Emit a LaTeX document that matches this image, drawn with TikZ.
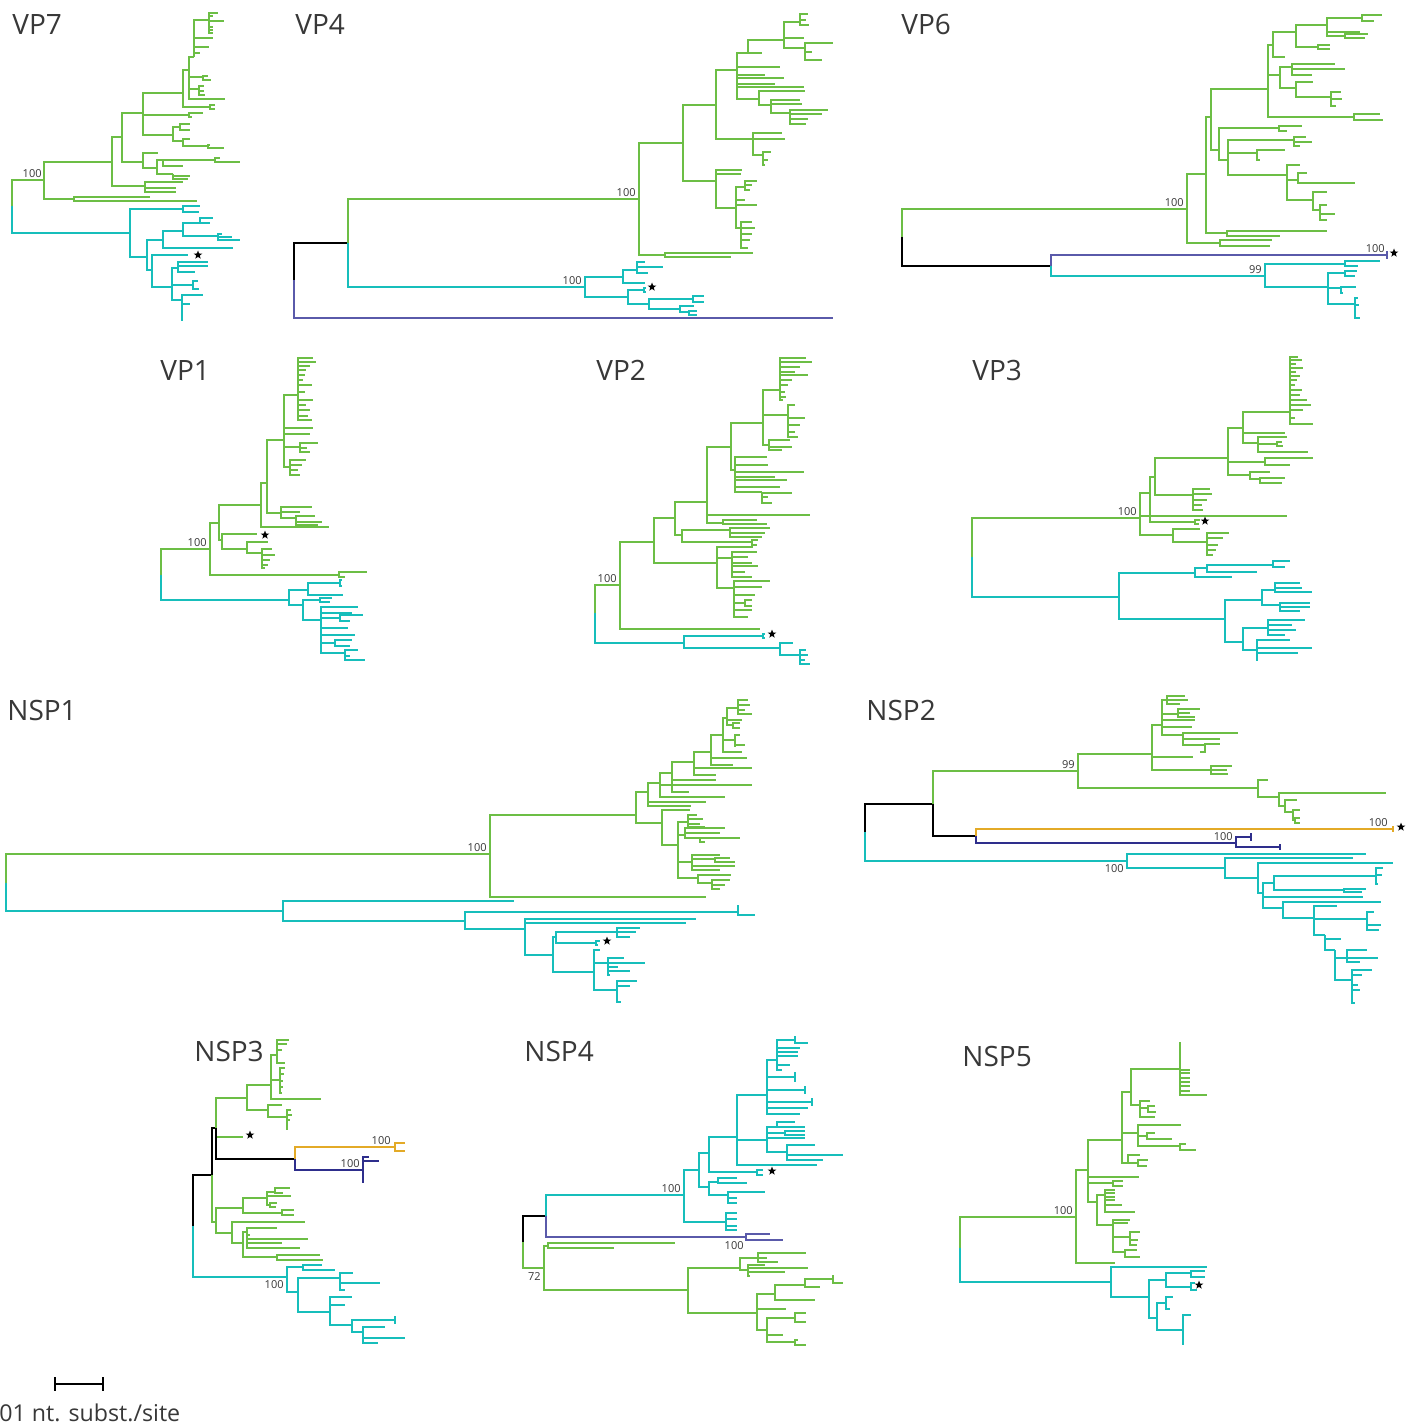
\documentclass[tikz,border=0pt]{standalone}
\usepackage{fontspec}
\setmainfont{Open Sans}
\usepackage{xcolor}
\usetikzlibrary{shapes.geometric}

\definecolor{tgreen}{HTML}{6CBE45}
\definecolor{tcyan}{HTML}{17BEBB}
\definecolor{tpurple}{HTML}{5A5AAA}
\definecolor{tnavy}{HTML}{2E2E8C}
\definecolor{tgold}{HTML}{E3AA27}
\definecolor{txtgray}{HTML}{383838}

% one internal node: x, y, then child y/x pairs (elbow branches)
\newcommand\clade[4][grn]{%
  \foreach \cy/\cx in {#4}{\draw[branch,#1] (#2,#3) |- (\cx,\cy);}}

\begin{document}
\begin{tikzpicture}[
  x=0.5pt, y=-0.5pt,
  branch/.style={line width=1.35pt},
  grn/.style={draw=tgreen}, cyn/.style={draw=tcyan}, pur/.style={draw=tpurple},
  nvy/.style={draw=tnavy}, org/.style={draw=tgold}, blk/.style={draw=black},
  title/.style={font=\fontsize{14}{14}\selectfont, text=txtgray, anchor=base west, inner sep=0},
  boot/.style={font=\fontsize{5.5}{5.5}\selectfont, text=txtgray, inner sep=0.5pt},
  starmark/.style={star, star points=5, star point ratio=2.4, fill=black, minimum size=4.5pt, inner sep=0}
]
\useasboundingbox (0,0) rectangle (1417,1427);

%% VP7
\node[title] (t-vp7) at (12,35) {VP7};
\clade[grn]{12}{206}{180/44}
\clade[cyn]{12}{206}{233/130}
\node[boot, anchor=south east] (b-vp7) at (43,179) {100};
\clade{44}{180}{162/112, 199/74}
\clade{74}{199}{197/150, 201/197}
\clade{112}{162}{137/122, 186/145}
\clade{145}{186}{182/183, 188/176, 192/176}
\clade{122}{137}{113/143, 162/143}
\clade{143}{162}{153/158, 168/157}
\clade{157}{168}{160/163, 174/173}
\clade{163}{160}{160/215, 166/183}
\clade{215}{160}{158/220, 162/240}
\clade{173}{174}{176/190, 179/188}
\clade{143}{113}{93/183, 115/189, 135/173}
\clade{189}{115}{113/203, 117/192}
\clade{173}{135}{127/180, 141/183}
\clade{180}{127}{124/190, 130/190}
\clade{183}{141}{139/190, 146/208}
\clade{208}{146}{145/210, 148/224}
\clade{183}{93}{70/189, 107/210}
\clade{210}{107}{105/215, 109/215}
\clade{189}{70}{57/194, 77/203, 89/199, 99/225}
\clade{203}{77}{76/208, 80/211}
\clade{199}{89}{86/204, 91/204, 95/205}
\clade{194}{57}{20/209, 38/213, 47/209, 53/200}
\clade{209}{20}{13/218, 16/213, 21/224, 27/213, 30/213, 33/213}
\clade[cyn]{130}{233}{209/183, 257/147}
\clade[cyn]{183}{209}{206/200, 212/199}
\clade[cyn]{147}{257}{240/163, 270/152}
\clade[cyn]{163}{240}{231/183, 248/233}
\clade[cyn]{183}{231}{223/200, 236/218}
\clade[cyn]{200}{223}{218/213, 223/210}
\clade[cyn]{218}{236}{234/222, 237/232, 240/240}
\clade[cyn]{152}{270}{255/188, 287/172}
\clade[cyn]{172}{287}{268/178, 285/193, 300/182}
\clade[cyn]{178}{268}{262/208, 266/208, 272/195}
\clade[cyn]{193}{285}{281/198, 289/199}
\clade[cyn]{182}{300}{295/203, 304/190, 320/183}
\node[starmark] (s-vp7) at (198,255) {};

%% VP4
\node[title] (t-vp4) at (295,35) {VP4};
\clade[blk]{294}{280}{243/348}
\clade[pur]{294}{280}{318/833}
\clade[grn]{348}{243}{199/639}
\clade[cyn]{348}{243}{287/585}
\node[boot, anchor=south east] (b-vp4a) at (637,198) {100};
\node[boot, anchor=south east] (b-vp4b) at (583,286) {100};
\clade{639}{199}{143/683, 255/665}
\clade{665}{255}{253/753, 257/731}
\clade{683}{143}{105/716, 181/716}
\clade{716}{105}{70/737, 139/753}
\clade{737}{70}{53/748, 67/780, 75/765, 78/784, 84/775, 87/804, 99/759}
\clade{748}{53}{40/784, 53/762}
\clade{784}{40}{22/800, 38/804, 48/805}
\clade{800}{22}{14/808, 20/806, 25/809}
\clade{805}{48}{43/833, 52/812, 60/822}
\clade{759}{99}{91/805, 105/771}
\clade{771}{105}{100/800, 104/802, 113/790}
\clade{790}{113}{110/828, 114/822, 119/808, 124/806}
\clade{753}{139}{133/782, 139/785, 155/763}
\clade{763}{155}{152/771, 160/768, 165/765}
\clade{716}{181}{170/742, 174/741, 208/736}
\clade{736}{208}{187/745, 200/745, 205/757, 228/741}
\clade{745}{187}{181/757, 185/752, 190/750}
\clade{741}{228}{222/752, 228/755, 234/752, 240/750, 248/748}
\clade[cyn]{585}{287}{277/623, 297/628}
\clade[cyn]{623}{277}{270/637, 283/645}
\clade[cyn]{637}{270}{262/645, 267/663, 273/648}
\clade[cyn]{628}{297}{290/644, 304/649}
\clade[cyn]{644}{290}{288/646, 292/646}
\clade[cyn]{649}{304}{299/693, 309/680}
\clade[cyn]{693}{299}{296/704, 302/704}
\clade[cyn]{680}{309}{306/694, 312/689}
\clade[cyn]{689}{312}{311/697, 315/697}
\node[starmark] (s-vp4) at (652,287) {};

%% VP6
\node[title] (t-vp6) at (901,35) {VP6};
\clade[grn]{902}{237}{209/1187}
\clade[blk]{902}{237}{266/1051}
\clade[pur]{1051}{266}{255/1387}
\clade[pur]{1387}{255}{252/1388, 258/1388}
\clade[cyn]{1051}{266}{276/1265}
\node[boot, anchor=south east] (b-vp6a) at (1185,208) {100};
\node[boot, anchor=south east] (b-vp6b) at (1386,254) {100};
\node[boot, anchor=south east] (b-vp6c) at (1263,275) {99};
\node[starmark] (s-vp6) at (1394,253) {};
\clade[cyn]{1265}{276}{264/1345, 287/1328}
\clade[cyn]{1345}{264}{261/1380, 266/1358}
\clade[cyn]{1328}{287}{273/1345, 288/1341, 304/1355}
\clade[cyn]{1345}{273}{271/1357, 276/1355}
\clade[cyn]{1341}{288}{287/1356, 293/1343}
\clade[cyn]{1355}{304}{298/1358, 305/1359, 318/1360}
\clade{1187}{209}{174/1206, 243/1220}
\clade{1220}{243}{240/1272, 246/1270}
\clade{1206}{174}{117/1211, 233/1227}
\clade{1227}{233}{231/1327, 236/1280}
\clade{1211}{117}{89/1268, 150/1219}
\clade{1268}{89}{45/1273, 75/1280, 117/1354}
\clade{1354}{117}{114/1380, 120/1383}
\clade{1273}{45}{32/1296, 57/1285}
\clade{1296}{32}{25/1327, 47/1318}
\clade{1318}{47}{45/1330, 49/1330}
\clade{1327}{25}{18/1362, 32/1360, 36/1345}
\clade{1362}{18}{15/1382, 21/1374}
\clade{1345}{36}{34/1368, 38/1365}
\clade{1280}{75}{67/1292, 88/1296}
\clade{1292}{67}{64/1335, 69/1345, 75/1312}
\clade{1296}{88}{82/1313, 97/1331}
\clade{1331}{97}{92/1341, 99/1342, 106/1336}
\clade{1219}{150}{128/1279, 160/1228}
\clade{1279}{128}{126/1302, 131/1287}
\clade{1228}{160}{140/1294, 153/1257, 175/1287}
\clade{1294}{140}{137/1306, 142/1312, 146/1300}
\clade{1257}{153}{150/1285, 160/1260}
\clade{1287}{175}{165/1300, 180/1298, 200/1313}
\clade{1298}{180}{173/1307, 183/1355}
\clade{1313}{200}{192/1327, 210/1320}
\clade{1320}{210}{205/1327, 214/1335, 220/1327}

%% VP1
\node[title] (t-vp1) at (160,381) {VP1};
\clade[grn]{161}{575}{549/210}
\clade[cyn]{161}{575}{600/289}
\node[boot, anchor=south east] (b-vp1) at (208,548) {100};
\clade{210}{549}{523/219, 575/339}
\clade{339}{575}{572/367, 577/345}
\clade{219}{523}{505/261, 540/222}
\clade{222}{540}{534/257, 549/247}
\clade{247}{549}{542/268, 553/262}
\clade{262}{553}{549/272, 555/275, 560/270, 565/268, 568/265}
\node[starmark] (s-vp1) at (265,535) {};
\clade{261}{505}{483/267, 527/329}
\clade{267}{483}{440/284, 513/281}
\clade{281}{513}{507/312, 512/300, 518/296}
\clade{296}{518}{516/315, 522/322, 525/318}
\clade{284}{440}{395/298, 428/313, 434/310, 447/300, 467/290}
\clade{298}{395}{358/313, 362/316, 366/310, 370/306, 375/305, 380/303, 385/312, 392/305, 400/313, 405/306, 410/310, 416/308, 420/312}
\clade{300}{447}{443/318, 448/307, 452/310}
\clade{290}{467}{460/306, 465/302, 470/298, 475/300}
\clade[cyn]{289}{600}{590/308, 605/303}
\clade[cyn]{308}{590}{583/340, 595/343}
\clade[cyn]{340}{583}{580/342, 586/342}
\clade[cyn]{303}{605}{600/320, 620/321}
\clade[cyn]{320}{600}{598/332, 602/330}
\clade[cyn]{321}{620}{607/358, 613/352, 618/340, 628/348, 635/355, 643/335, 653/345}
\clade[cyn]{340}{618}{615/363, 621/350}
\clade[cyn]{335}{643}{640/352, 646/350}
\clade[cyn]{345}{653}{650/358, 656/350, 660/365}

%% VP2
\node[title] (t-vp2) at (596,381) {VP2};
\clade[grn]{595}{613}{585/620}
\clade[cyn]{595}{613}{643/684}
\node[boot, anchor=south east] (b-vp2) at (618,584) {100};
\clade[cyn]{684}{643}{636/763, 648/780}
\clade[cyn]{763}{636}{634/765, 638/765}
\clade[cyn]{780}{648}{643/793, 655/800}
\clade[cyn]{800}{655}{650/806, 655/808, 660/805, 664/810}
\node[starmark] (s-vp2) at (772,634) {};
\clade{620}{585}{542/654, 629/760}
\clade{654}{542}{518/675, 563/717}
\clade{717}{563}{547/753, 558/732, 588/734}
\clade{732}{558}{552/757, 557/748, 563/752, 566/758, 572/745, 577/752}
\clade{734}{588}{581/770, 587/762, 595/755, 603/745, 610/752, 617/748}
\clade{745}{603}{600/752, 606/752}
\clade{675}{518}{502/707, 535/682}
\clade{682}{535}{530/730, 542/752}
\clade{730}{530}{528/770, 533/765, 537/762}
\clade{752}{542}{540/758, 545/757}
\clade{707}{502}{447/731, 515/810, 523/723}
\clade{723}{523}{520/757, 524/767}
\clade{731}{447}{423/763, 470/735}
\clade{735}{470}{457/767, 465/768, 472/804, 477/775, 480/787, 487/780, 492/762}
\clade{762}{492}{493/792, 497/768, 503/772}
\clade{763}{423}{390/780, 415/788, 445/769}
\clade{780}{390}{358/806, 362/812, 367/800, 372/795, 375/808, 380/792, 385/788, 392/785, 397/786, 400/783}
\clade{788}{415}{405/795, 418/805, 425/800, 432/795, 437/798}
\clade{769}{445}{440/790, 447/792, 450/782}

%% VP3
\node[title] (t-vp3) at (972,381) {VP3};
\clade[grn]{972}{557}{518/1140}
\clade[cyn]{972}{557}{597/1119}
\node[boot, anchor=south east] (b-vp3) at (1138,517) {100};
\clade{1140}{518}{493/1150, 516/1287, 535/1173}
\clade{1150}{493}{477/1155, 522/1195}
\clade{1195}{522}{520/1200, 524/1199}
\node[starmark] (s-vp3) at (1205,521) {};
\clade{1155}{477}{458/1228, 495/1193}
\clade{1193}{495}{489/1210, 494/1212, 500/1207, 505/1202, 510/1203}
\clade{1173}{535}{529/1200, 542/1207}
\clade{1207}{542}{533/1229, 538/1223, 545/1218, 550/1216, 555/1213}
\clade{1228}{458}{428/1243, 462/1265, 475/1250}
\clade{1265}{462}{458/1313, 465/1290}
\clade{1250}{475}{472/1270, 479/1260}
\clade{1260}{479}{478/1285, 483/1282}
\clade{1243}{428}{412/1290, 433/1285, 443/1258}
\clade{1258}{443}{437/1287, 444/1277, 452/1308}
\clade{1277}{444}{442/1282, 446/1283}
\clade{1290}{412}{357/1298, 360/1302, 364/1296, 368/1303, 372/1296, 376/1300, 380/1297, 385/1295, 390/1302, 395/1300, 400/1307, 405/1311, 410/1303, 418/1295, 424/1313}
\clade[cyn]{1119}{597}{573/1195, 619/1225}
\clade[cyn]{1195}{573}{568/1207, 577/1232}
\clade[cyn]{1207}{568}{565/1273, 572/1257}
\clade[cyn]{1273}{565}{561/1290, 567/1285}
\clade[cyn]{1225}{619}{600/1262, 642/1243}
\clade[cyn]{1262}{600}{590/1275, 605/1280}
\clade[cyn]{1275}{590}{583/1300, 588/1302, 592/1312}
\clade[cyn]{1280}{605}{603/1310, 607/1310, 611/1300}
\clade[cyn]{1243}{642}{628/1268, 650/1257}
\clade[cyn]{1268}{628}{620/1305, 625/1292, 630/1296, 635/1285}
\clade[cyn]{1257}{650}{640/1290, 648/1312, 653/1298, 660/1258}

%% NSP1
\node[title] (t-nsp1) at (7,720) {NSP1};
\clade[grn]{6}{883}{854/490}
\clade[cyn]{6}{883}{911/283}
\node[boot, anchor=south east] (b-nsp1) at (488,853) {100};
\clade{490}{854}{815/636, 897/706}
\clade{636}{815}{792/648, 823/662}
\clade{648}{792}{783/660, 802/706, 806/691}
\clade{660}{783}{773/672, 797/725, 785/752}
\clade{672}{773}{762/694, 780/716, 792/689}
\clade{694}{762}{752/711, 768/752, 775/716}
\clade{711}{752}{735/723, 758/747, 765/733}
\clade{723}{735}{718/727, 740/735, 752/742}
\clade{735}{740}{735/740, 745/745, 747/735}
\clade{727}{718}{708/738, 720/742, 725/733}
\clade{738}{708}{700/748, 705/750, 710/745, 714/752}
\clade{733}{725}{723/740, 728/740}
\clade{662}{823}{810/690, 845/678}
\clade{678}{845}{822/688, 835/685, 862/692, 878/698}
\clade{688}{822}{815/697, 819/703, 824/700, 827/705}
\clade{685}{835}{828/725, 833/720, 838/700}
\clade{700}{838}{838/740, 842/705}
\clade{692}{862}{855/720, 859/715, 866/735, 870/720}
\clade{715}{859}{858/730, 862/735}
\clade{698}{878}{875/731, 883/712}
\clade{712}{883}{880/730, 885/725, 889/720}
\clade[cyn]{283}{911}{901/514, 921/465}
\clade[cyn]{465}{921}{912/738, 929/525}
\clade[cyn]{738}{912}{906/739, 915/755}
\clade[cyn]{525}{929}{919/696, 923/686, 955/553}
\clade[cyn]{553}{955}{937/556, 972/594}
\clade[cyn]{556}{937}{932/617, 943/596}
\clade[cyn]{617}{932}{928/640, 932/636, 937/630}
\clade[cyn]{596}{943}{941/600, 945/598}
\clade[cyn]{594}{972}{950/600, 963/608, 990/617}
\clade[cyn]{608}{963}{958/624, 963/645, 967/618, 971/630, 975/610}
\clade[cyn]{617}{990}{981/637, 986/630, 1002/621}
\node[starmark] (s-nsp1) at (607,941) {};

%% NSP2
\node[title] (t-nsp2) at (866,720) {NSP2};
\clade[blk]{865}{832}{804/933}
\clade[cyn]{865}{832}{861/1127}
\clade[grn]{933}{804}{771/1078}
\clade[blk]{933}{804}{836/976}
\clade[org]{976}{836}{829/1393}
\clade[org]{1393}{829}{827/1394, 831/1394}
\clade[nvy]{976}{836}{843/1236}
\clade[nvy]{1236}{843}{837/1251, 847/1280}
\clade[nvy]{1251}{837}{834/1252, 840/1252}
\clade[nvy]{1280}{847}{845/1281, 849/1281}
\node[boot, anchor=south east] (b-nsp2a) at (1076,770) {99};
\node[boot, anchor=south east] (b-nsp2b) at (1389,828) {100};
\node[boot, anchor=south east] (b-nsp2c) at (1234,842) {100};
\node[boot, anchor=north east] (b-nsp2d) at (1125,863) {100};
\node[starmark] (s-nsp2) at (1401,827) {};
\clade{1078}{771}{754/1152, 788/1258}
\clade{1258}{788}{780/1268, 797/1279}
\clade{1279}{797}{793/1386, 806/1285}
\clade{1285}{806}{800/1297, 812/1293}
\clade{1293}{812}{810/1300, 820/1295}
\clade{1295}{820}{818/1300, 823/1300}
\clade{1152}{754}{725/1162, 757/1193, 770/1211}
\clade{1162}{725}{700/1167, 714/1178, 720/1195, 727/1192, 735/1183}
\clade{1167}{700}{696/1185, 700/1188, 704/1180}
\clade{1178}{714}{709/1200, 713/1190, 717/1195}
\clade{1183}{735}{733/1238, 739/1220, 745/1205}
\clade{1205}{745}{744/1220, 748/1205, 752/1200}
\clade{1211}{770}{766/1232, 770/1227, 774/1228}
\clade[cyn]{1127}{861}{854/1366, 868/1225}
\clade[cyn]{1225}{868}{858/1353, 878/1258}
\clade[cyn]{1258}{878}{863/1393, 893/1263}
\clade[cyn]{1263}{893}{883/1274, 897/1363, 908/1283}
\clade[cyn]{1274}{883}{876/1376, 890/1344}
\clade[cyn]{1376}{876}{868/1383, 875/1382, 884/1378}
\clade[cyn]{1344}{890}{889/1366, 892/1362}
\clade[cyn]{1283}{908}{902/1381, 918/1314}
\clade[cyn]{1314}{918}{906/1337, 919/1367, 935/1325}
\clade[cyn]{1367}{919}{912/1374, 925/1381, 930/1379}
\clade[cyn]{1325}{935}{939/1341, 950/1335}
\clade[cyn]{1335}{950}{958/1347, 980/1352}
\clade[cyn]{1347}{958}{950/1367, 958/1378, 962/1360}
\clade[cyn]{1352}{980}{970/1372, 975/1362, 985/1358, 990/1360, 1003/1355}

%% NSP3
\node[title] (t-nsp3) at (194,1061) {NSP3};
\clade[blk]{193}{1226}{1175/212}
\clade[cyn]{193}{1226}{1277/287}
\clade[grn]{212}{1175}{1222/216}
\clade[blk]{212}{1175}{1128/216}
\clade[grn]{216}{1128}{1098/247, 1137/243}
\clade[blk]{216}{1128}{1159/295}
\clade[org]{295}{1159}{1147/395}
\clade[nvy]{295}{1159}{1170/363}
\clade[org]{395}{1147}{1143/405, 1151/405}
\clade[nvy]{363}{1170}{1157/369, 1161/379, 1183/363}
\node[boot, anchor=south east] (b-nsp3a) at (392,1146) {100};
\node[boot, anchor=south east] (b-nsp3b) at (361,1169) {100};
\node[boot, anchor=north east] (b-nsp3c) at (285,1279) {100};
\node[starmark] (s-nsp3) at (250,1135) {};
\clade{247}{1098}{1085/271, 1110/268}
\clade{271}{1085}{1055/277, 1080/280, 1099/321}
\clade{277}{1055}{1040/289, 1044/287, 1050/282, 1063/285}
\clade{280}{1080}{1068/285, 1074/284, 1081/283, 1087/283, 1093/282}
\clade{268}{1110}{1105/282, 1117/287}
\clade{287}{1117}{1110/291, 1115/292, 1120/290, 1130/287}
\clade{216}{1222}{1208/243, 1233/232}
\clade{243}{1208}{1198/267, 1213/282}
\clade{267}{1198}{1192/275, 1196/291, 1205/270}
\clade{275}{1192}{1188/290, 1193/283}
\clade{270}{1205}{1203/277, 1207/276}
\clade{282}{1213}{1210/294, 1215/294}
\clade{232}{1233}{1222/305, 1243/243}
\clade{243}{1243}{1232/247, 1257/277}
\clade{247}{1232}{1228/277, 1235/250, 1239/308, 1243/282, 1248/300}
\clade{277}{1257}{1255/320, 1260/323}
\clade[cyn]{287}{1277}{1267/303, 1292/298}
\clade[cyn]{303}{1267}{1265/322, 1270/335}
\clade[cyn]{298}{1292}{1278/340, 1312/330}
\clade[cyn]{340}{1278}{1273/353, 1283/380, 1290/345}
\clade[cyn]{330}{1312}{1297/352, 1305/345, 1325/352}
\clade[cyn]{352}{1325}{1320/395, 1332/363}
\clade[cyn]{395}{1320}{1317/396, 1323/396}
\clade[cyn]{363}{1332}{1327/385, 1338/405, 1343/378}

%% NSP4
\node[title] (t-nsp4) at (524,1061) {NSP4};
\clade[blk]{523}{1242}{1216/546}
\clade[grn]{523}{1242}{1268/544}
\clade[cyn]{546}{1216}{1195/684}
\clade[pur]{546}{1216}{1237/746}
\clade[pur]{746}{1237}{1234/770, 1240/783}
\node[boot, anchor=north east] (b-nsp4a) at (542,1271) {72};
\node[boot, anchor=south east] (b-nsp4b) at (682,1194) {100};
\node[boot, anchor=north east] (b-nsp4c) at (745,1240) {100};
\clade{544}{1268}{1246/548, 1290/688}
\clade{548}{1246}{1243/675, 1248/614}
\clade{688}{1290}{1268/740, 1313/757}
\clade{740}{1268}{1258/758, 1270/748}
\clade{758}{1258}{1253/806, 1258/767, 1262/778}
\clade{748}{1270}{1265/765, 1268/808, 1272/785, 1276/750}
\clade{757}{1313}{1294/775, 1309/786, 1330/767}
\clade{775}{1294}{1285/805, 1300/815}
\clade{805}{1285}{1279/833, 1287/820}
\clade{833}{1279}{1276/834, 1283/843}
\clade{767}{1330}{1318/795, 1335/783, 1342/795}
\clade{795}{1318}{1313/806, 1322/806}
\clade{795}{1342}{1340/798, 1345/806}
\clade[cyn]{684}{1195}{1170/699, 1222/726}
\clade[cyn]{726}{1222}{1213/737, 1219/737, 1226/737, 1230/737}
\clade[cyn]{699}{1170}{1153/709, 1187/709}
\clade[cyn]{709}{1187}{1182/718, 1195/728}
\clade[cyn]{718}{1182}{1178/737, 1183/747}
\clade[cyn]{728}{1195}{1192/765, 1198/737, 1203/737}
\clade[cyn]{709}{1153}{1137/737, 1172/757}
\clade[cyn]{757}{1172}{1170/763, 1175/763}
\node[starmark] (s-nsp4) at (772,1171) {};
\clade[cyn]{737}{1137}{1095/767, 1140/767, 1165/817}
\clade[cyn]{767}{1140}{1127/777, 1133/785, 1138/805, 1152/787}
\clade[cyn]{777}{1127}{1122/795, 1127/805}
\clade[cyn]{785}{1133}{1131/805, 1135/805}
\clade[cyn]{787}{1152}{1145/815, 1155/843, 1160/823}
\clade[cyn]{767}{1095}{1060/777, 1077/795, 1090/805, 1102/812, 1108/808, 1114/800}
\clade[cyn]{777}{1060}{1040/795, 1048/800, 1052/798, 1056/798, 1065/790, 1070/782}
\clade[cyn]{795}{1040}{1037/796, 1043/808}
\clade[cyn]{795}{1077}{1073/796, 1081/796}
\clade[cyn]{805}{1090}{1087/806, 1093/806}
\clade[cyn]{812}{1102}{1099/813, 1105/813}

%% NSP5
\node[title] (t-nsp5) at (962,1066) {NSP5};
\clade[grn]{960}{1248}{1217/1076}
\clade[cyn]{960}{1248}{1282/1111}
\node[boot, anchor=south east] (b-nsp5) at (1074,1216) {100};
\clade{1076}{1217}{1170/1088, 1263/1115}
\clade{1088}{1170}{1140/1122, 1177/1139, 1183/1113, 1202/1097}
\clade{1113}{1183}{1181/1123, 1186/1123}
\clade{1097}{1202}{1195/1105, 1225/1113}
\clade{1105}{1195}{1190/1115, 1193/1115, 1197/1115, 1200/1115, 1205/1122, 1212/1135}
\clade{1113}{1225}{1220/1130, 1223/1128, 1237/1130, 1252/1125}
\clade{1130}{1237}{1232/1140, 1240/1138, 1245/1137}
\clade{1125}{1252}{1250/1137, 1257/1140}
\clade{1122}{1140}{1092/1131, 1133/1138, 1163/1128}
\clade{1131}{1092}{1069/1180, 1105/1140}
\clade{1180}{1069}{1043/1181, 1070/1190, 1073/1190, 1078/1190, 1082/1190, 1086/1190, 1091/1190, 1095/1207}
\clade{1140}{1105}{1101/1150, 1108/1148, 1117/1155}
\clade{1148}{1108}{1106/1155, 1112/1156}
\clade{1138}{1133}{1125/1181, 1136/1147, 1146/1180}
\clade{1147}{1136}{1133/1155, 1139/1172}
\clade{1180}{1146}{1144/1186, 1150/1196}
\clade{1128}{1163}{1155/1140, 1163/1138}
\clade{1138}{1163}{1160/1148, 1166/1147}
\clade[cyn]{1111}{1282}{1267/1207, 1297/1149}
\clade[cyn]{1149}{1297}{1280/1166, 1318/1157}
\clade[cyn]{1166}{1280}{1273/1191, 1287/1191}
\clade[cyn]{1191}{1273}{1271/1205, 1277/1205}
\clade[cyn]{1191}{1287}{1283/1195, 1290/1197}
\clade[cyn]{1157}{1318}{1303/1166, 1330/1183}
\clade[cyn]{1166}{1303}{1297/1173, 1309/1170}
\clade[cyn]{1183}{1330}{1315/1191, 1345/1183}
\node[starmark] (s-nsp5) at (1199,1285) {};

%% scale bar
\coordinate (sb-l) at (55,1384);
\coordinate (sb-r) at (103,1384);
\draw[branch] (sb-l) -- (sb-r);
\draw[branch] (55,1377) -- (55,1391);
\draw[branch] (103,1377) -- (103,1391);
\node[font=\fontsize{11.6}{11.6}\selectfont, text=txtgray, anchor=base west, inner sep=0] (sb-text) at (-1,1421) {01 nt. subst./site};
\end{tikzpicture}
\end{document}
